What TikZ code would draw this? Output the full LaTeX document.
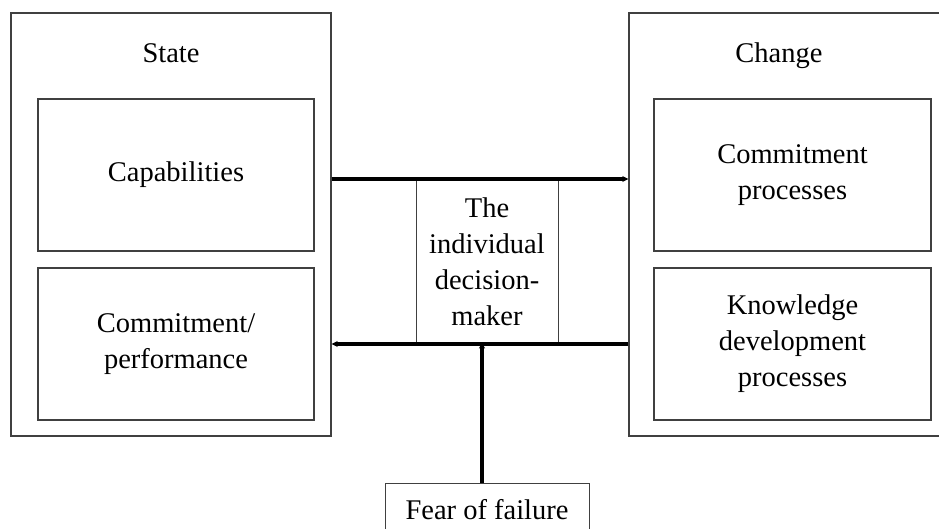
\documentclass[tikz,border=0pt]{standalone}
\usepackage{fontspec}
\setmainfont{Liberation Serif}
\usetikzlibrary{arrows.meta}
\begin{document}
\begin{tikzpicture}[x=1pt,y=1pt,
  box/.style={draw=black!75,line width=1.3pt,inner sep=0pt},
  lbl/.style={font=\fontsize{28.5}{36}\selectfont,align=center,inner sep=0pt},
  thick arrow/.style={line width=3.6pt,-{Stealth[length=6pt,width=6pt]}}]
\useasboundingbox (0,0) rectangle (939,528);
% outer boxes
\node[box,minimum width=320,minimum height=423] (lo) at (171,303.5) {};
\node[box,minimum width=330,minimum height=423] (ro) at (794,303.5) {};
\node[lbl,anchor=base] (st) at (171,465) {State};
\node[lbl,anchor=base] (ch) at (779,465) {Change};
% inner boxes
\node[box,minimum width=276,minimum height=152,lbl] (cap) at (176,353) {Capabilities};
\node[box,minimum width=276,minimum height=152,lbl] (cp) at (176,184) {Commitment/\\performance};
\node[box,minimum width=277,minimum height=152,lbl] (cpr) at (792.5,353) {Commitment\\processes};
\node[box,minimum width=277,minimum height=152,lbl] (kdp) at (792.5,184) {Knowledge\\development\\processes};
% centre
\node[box,line width=1pt,minimum width=142,minimum height=161,lbl] (dm) at (487,266.5) {The\\individual\\decision-\\maker};
% fear
\node[box,line width=1pt,minimum width=204,minimum height=60] (ff) at (487,15) {};
\node[lbl,anchor=base] (fft) at (487,9) {Fear of failure};
% arrows
\coordinate (ya) at (0,349);
\coordinate (yb) at (0,184);
\draw[thick arrow] (lo.east |- ya) -- (ro.west |- ya);
\draw[thick arrow] (ro.west |- yb) -- (lo.east |- yb);
\draw[thick arrow] ([xshift=-5pt]ff.north) -- ([xshift=-5pt]dm.south);
\end{tikzpicture}
\end{document}
